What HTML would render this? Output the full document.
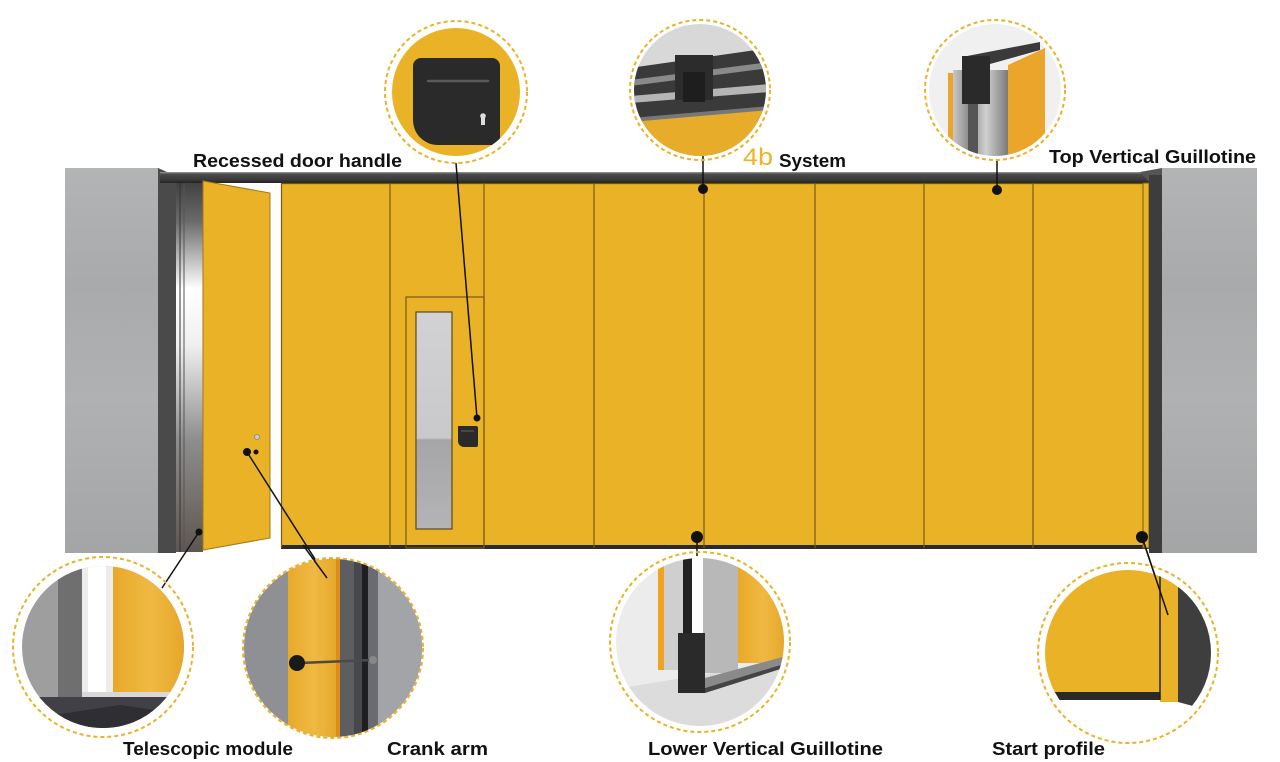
<!DOCTYPE html>
<html><head><meta charset="utf-8"><style>
html,body{margin:0;padding:0;background:#fff;}
svg{display:block;}
text{font-family:"Liberation Sans",sans-serif;font-weight:bold;fill:#111;}
</style></head><body>
<svg width="1280" height="762" viewBox="0 0 1280 762" xmlns="http://www.w3.org/2000/svg">
<defs>
  <linearGradient id="wallG" x1="0" y1="0" x2="0" y2="1">
    <stop offset="0" stop-color="#b3b4b5"/><stop offset="0.3" stop-color="#a9aaab"/>
    <stop offset="0.6" stop-color="#b0b1b2"/><stop offset="1" stop-color="#a4a5a6"/>
  </linearGradient>
  <linearGradient id="chanG" x1="0" y1="0" x2="0" y2="1">
    <stop offset="0" stop-color="#3a3a3a"/><stop offset="0.12" stop-color="#6a6a6a"/>
    <stop offset="0.3" stop-color="#ffffff"/><stop offset="0.45" stop-color="#f0f0f0"/>
    <stop offset="0.7" stop-color="#8e8e8e"/><stop offset="1" stop-color="#5e5650"/>
  </linearGradient>
  <linearGradient id="trackG" x1="0" y1="0" x2="0" y2="1">
    <stop offset="0" stop-color="#9a9a9a"/><stop offset="0.2" stop-color="#4a4a4a"/>
    <stop offset="0.7" stop-color="#3a3a3a"/><stop offset="1" stop-color="#222"/>
  </linearGradient>
  <linearGradient id="glassG" x1="0" y1="0" x2="0" y2="1">
    <stop offset="0" stop-color="#d2d2d4"/><stop offset="0.58" stop-color="#c9c9cb"/>
    <stop offset="0.59" stop-color="#a6a6a8"/><stop offset="1" stop-color="#b4b4b6"/>
  </linearGradient>
  <linearGradient id="metalG" x1="0" y1="0" x2="1" y2="0">
    <stop offset="0" stop-color="#c8c8c8"/><stop offset="0.3" stop-color="#8a8a8a"/>
    <stop offset="0.6" stop-color="#d0d0d0"/><stop offset="1" stop-color="#7a7a7a"/>
  </linearGradient>
  <linearGradient id="woodG" x1="0" y1="0" x2="1" y2="0">
    <stop offset="0" stop-color="#e9a92a"/><stop offset="0.5" stop-color="#efb943"/><stop offset="1" stop-color="#e5a527"/>
  </linearGradient>
  <clipPath id="c1"><circle cx="456" cy="92" r="64"/></clipPath>
  <clipPath id="c2"><circle cx="700" cy="90" r="66"/></clipPath>
  <clipPath id="c3"><circle cx="995" cy="90" r="66"/></clipPath>
  <clipPath id="c4"><circle cx="103" cy="647" r="81"/></clipPath>
  <clipPath id="c5"><circle cx="333" cy="648" r="89"/></clipPath>
  <clipPath id="c6"><circle cx="700" cy="642" r="84"/></clipPath>
  <clipPath id="c7"><circle cx="1128" cy="653" r="83"/></clipPath>
</defs>

<!-- ===== Main wall scene ===== -->
<!-- left wall -->
<rect x="65" y="168" width="94" height="385" fill="url(#wallG)"/>
<polygon points="158,168 176,176 176,553 158,553" fill="#4a4a4a"/>
<rect x="176" y="176" width="27" height="376" fill="url(#chanG)"/>
<line x1="180" y1="180" x2="180" y2="552" stroke="#333" stroke-width="1"/>
<line x1="184" y1="180" x2="184" y2="552" stroke="#555" stroke-width="1"/>
<!-- opening gap -->
<rect x="203" y="183" width="78" height="366" fill="#ffffff"/>
<!-- track -->
<rect x="160" y="172" width="990" height="11" fill="url(#trackG)"/>
<polygon points="1140,172 1162,168 1162,183 1150,183" fill="#555"/>
<!-- open door -->
<polygon points="203,181 270,193 270,538 203,550" fill="#e9b227" stroke="#a07a14" stroke-width="1"/>
<circle cx="257" cy="437" r="2.5" fill="#ccc" stroke="#888" stroke-width="0.8"/>
<!-- main panels -->
<rect x="281" y="183" width="862" height="365" fill="#e9b227"/>
<line x1="281" y1="183.5" x2="1143" y2="183.5" stroke="#6a5212" stroke-width="1.2"/>
<rect x="281" y="545" width="868" height="4" fill="#2b2b2b"/>
<g stroke="#7a5c10" stroke-width="1.2">
  <line x1="281.5" y1="183" x2="281.5" y2="548"/>
  <line x1="390" y1="183" x2="390" y2="548"/>
  <line x1="484" y1="183" x2="484" y2="548"/>
  <line x1="594" y1="183" x2="594" y2="548"/>
  <line x1="704" y1="183" x2="704" y2="548"/>
  <line x1="815" y1="183" x2="815" y2="548"/>
  <line x1="924" y1="183" x2="924" y2="548"/>
  <line x1="1033" y1="183" x2="1033" y2="548"/>
</g>
<!-- door with window -->
<rect x="406" y="297" width="78" height="251" fill="none" stroke="#7a5c10" stroke-width="1.2"/>
<rect x="416" y="312" width="36" height="217" fill="url(#glassG)" stroke="#5a4a20" stroke-width="1.2"/>
<path d="M458,426 h18 a2,2 0 0 1 2,2 v17 a2,2 0 0 1 -2,2 h-12 a6,6 0 0 1 -6,-6 z" fill="#2a2a2a"/>
<line x1="461" y1="431" x2="474" y2="431" stroke="#666" stroke-width="1"/>
<!-- start profile and right frame -->
<rect x="1143" y="183" width="6" height="365" fill="#e9b227" stroke="#7a5c10" stroke-width="1"/>
<rect x="1149" y="175" width="13" height="378" fill="#3d3d3d"/>
<rect x="1162" y="168" width="95" height="385" fill="url(#wallG)"/>

<!-- ===== Connectors & dots ===== -->
<g stroke="#111" stroke-width="1.5" fill="none">
  <line x1="456" y1="163" x2="477" y2="418"/>
  <line x1="703" y1="108" x2="703" y2="189"/>
  <line x1="997" y1="160" x2="997" y2="190"/>
  <line x1="199" y1="532" x2="162" y2="588"/>
  <line x1="247" y1="452" x2="327" y2="578"/>
  <line x1="697" y1="537" x2="697" y2="556"/>
  <line x1="1142" y1="537" x2="1168" y2="615"/>
</g>
<g fill="#111">
  <circle cx="703" cy="189" r="5"/>
  <circle cx="997" cy="190" r="5"/>
  <circle cx="477" cy="418" r="3.5"/>
  <circle cx="697" cy="537" r="6"/>
  <circle cx="1142" cy="537" r="6"/>
  <circle cx="199" cy="532" r="3.5"/>
  <circle cx="247" cy="452" r="4"/>
  <circle cx="256" cy="452" r="2.5"/>
</g>

<!-- ===== Circle 1: recessed handle ===== -->
<circle cx="456" cy="92" r="71" fill="none" stroke="#e9b227" stroke-width="2" stroke-dasharray="4,3"/>
<circle cx="456" cy="92" r="64" fill="#e9b227"/>
<g clip-path="url(#c1)">
  <path d="M421,58 h71 a8,8 0 0 1 8,8 v79 h-62 a25,25 0 0 1 -25,-25 v-54 a8,8 0 0 1 8,-8 z" fill="#2a2a2a"/>
  <line x1="428" y1="81" x2="488" y2="81" stroke="#5a5a5a" stroke-width="2.5" stroke-linecap="round"/>
  <rect x="481" y="115" width="4" height="10" fill="#ddd"/>
  <circle cx="483" cy="116" r="2.8" fill="#ddd"/>
</g>

<!-- ===== Circle 2: 4b system ===== -->
<circle cx="700" cy="90" r="70" fill="none" stroke="#e9b227" stroke-width="2" stroke-dasharray="4,3"/>
<g clip-path="url(#c2)">
  <rect x="630" y="20" width="140" height="140" fill="#d8d8d8"/>
  <polygon points="630,68 770,48 770,110 630,118" fill="#3a3a3a"/>
  <polygon points="630,80 770,62 770,68 630,86" fill="#8a8a8a"/>
  <polygon points="630,96 770,84 770,92 630,103" fill="#b5b5b5"/>
  <polygon points="630,118 770,106 770,112 630,124" fill="#777"/>
  <polygon points="630,122 770,110 770,160 630,160" fill="#e7ad2a"/>
  <rect x="675" y="55" width="38" height="45" fill="#2c2c2c"/>
  <rect x="683" y="72" width="22" height="30" fill="#1e1e1e"/>
</g>

<!-- ===== Circle 3: top vertical guillotine ===== -->
<circle cx="995" cy="90" r="70" fill="none" stroke="#e9b227" stroke-width="2" stroke-dasharray="4,3"/>
<circle cx="995" cy="90" r="66" fill="#f0f0f0"/>
<g clip-path="url(#c3)">
  <polygon points="1008,65 1045,48 1045,160 1008,160" fill="#eaa52a"/>
  <rect x="948" y="73" width="5" height="80" fill="#eaa52a"/>
  <rect x="953" y="70" width="55" height="90" fill="url(#metalG)"/>
  <polygon points="962,57 1040,42 1040,50 990,64 962,64" fill="#3a3a3a"/>
  <rect x="962" y="56" width="28" height="48" fill="#2a2a2a"/>
  <rect x="968" y="104" width="10" height="56" fill="#555"/>
</g>

<!-- ===== Circle 4: telescopic module ===== -->
<circle cx="103" cy="647" r="90" fill="none" stroke="#e9b227" stroke-width="2" stroke-dasharray="4,3"/>
<g clip-path="url(#c4)">
  <rect x="20" y="560" width="170" height="180" fill="#9e9e9e"/>
  <rect x="58" y="560" width="24" height="140" fill="#6f6f6f"/>
  <rect x="82" y="560" width="31" height="137" fill="#ececec"/>
  <rect x="88" y="560" width="18" height="137" fill="#ffffff"/>
  <rect x="113" y="560" width="75" height="132" fill="url(#woodG)"/>
  <rect x="82" y="692" width="106" height="5" fill="#d8d8d8"/>
  <rect x="20" y="697" width="170" height="50" fill="#404046"/>
  <polygon points="20,720 120,705 190,715 190,740 20,740" fill="#2e2e33"/>
</g>

<!-- ===== Circle 5: crank arm ===== -->
<circle cx="333" cy="648" r="90" fill="none" stroke="#e9b227" stroke-width="2" stroke-dasharray="4,3"/>
<g clip-path="url(#c5)">
  <rect x="240" y="555" width="190" height="190" fill="#8f9094"/>
  <rect x="288" y="555" width="52" height="190" fill="url(#woodG)"/>
  <rect x="336" y="555" width="4" height="190" fill="#e08c1a"/>
  <rect x="340" y="555" width="14" height="190" fill="#5d5e62"/>
  <rect x="354" y="555" width="8" height="190" fill="#47484c"/>
  <rect x="362" y="555" width="6" height="190" fill="#1f1f22"/>
  <rect x="368" y="555" width="10" height="190" fill="#6a6b70"/>
  <rect x="378" y="555" width="52" height="190" fill="#a3a4a8"/>
  <line x1="300" y1="663" x2="372" y2="660" stroke="#4a4a4a" stroke-width="2.5"/>
  <circle cx="373" cy="660" r="4" fill="#888"/>
  <circle cx="297" cy="663" r="8" fill="#1a1a1a"/>
</g>
<line x1="303" y1="545" x2="327" y2="578" stroke="#111" stroke-width="1.5"/>

<!-- ===== Circle 6: lower vertical guillotine ===== -->
<circle cx="700" cy="642" r="90" fill="none" stroke="#e9b227" stroke-width="2" stroke-dasharray="4,3"/>
<circle cx="700" cy="642" r="84" fill="#ececec"/>
<g clip-path="url(#c6)">
  <polygon points="610,690 790,660 790,730 610,730" fill="#dcdcdc"/>
  <rect x="658" y="555" width="6" height="115" fill="#eea321"/>
  <rect x="664" y="555" width="19" height="115" fill="#cfcfcf"/>
  <rect x="692" y="555" width="11" height="120" fill="#ffffff"/>
  <rect x="703" y="555" width="35" height="118" fill="#b8b8b8"/>
  <rect x="738" y="555" width="50" height="108" fill="url(#woodG)"/>
  <rect x="683" y="553" width="9" height="85" fill="#222"/>
  <rect x="678" y="633" width="27" height="60" fill="#2a2a2a"/>
  <polygon points="705,678 790,655 790,662 705,688" fill="#8a8a8a"/>
  <polygon points="705,688 790,662 790,666 705,693" fill="#444"/>
</g>

<!-- ===== Circle 7: start profile ===== -->
<circle cx="1128" cy="653" r="90" fill="none" stroke="#e9b227" stroke-width="2" stroke-dasharray="4,3"/>
<g clip-path="url(#c7)">
  <rect x="1040" y="565" width="120" height="127" fill="#e9b227"/>
  <rect x="1040" y="692" width="120" height="8" fill="#2a2a2a"/>
  <rect x="1160" y="565" width="18" height="137" fill="#e9b227"/>
  <line x1="1160" y1="565" x2="1160" y2="700" stroke="#222" stroke-width="1.5"/>
  <polygon points="1178,565 1215,565 1215,712 1178,702" fill="#3e3e3e"/>
</g>
<line x1="1142" y1="537" x2="1168" y2="615" stroke="#111" stroke-width="1.5"/>

<!-- ===== Labels ===== -->
<text x="193" y="167" font-size="18" textLength="209" lengthAdjust="spacingAndGlyphs">Recessed door handle</text>
<text x="743" y="165" font-size="24" style="font-weight:normal;fill:#eeb22c" textLength="30" lengthAdjust="spacingAndGlyphs">4b</text>
<text x="779" y="167" font-size="18" textLength="67" lengthAdjust="spacingAndGlyphs">System</text>
<text x="1049" y="163" font-size="18" textLength="207" lengthAdjust="spacingAndGlyphs">Top Vertical Guillotine</text>
<text x="123" y="755" font-size="18" textLength="170" lengthAdjust="spacingAndGlyphs">Telescopic module</text>
<text x="387" y="755" font-size="18" textLength="101" lengthAdjust="spacingAndGlyphs">Crank arm</text>
<text x="648" y="755" font-size="18" textLength="235" lengthAdjust="spacingAndGlyphs">Lower Vertical Guillotine</text>
<text x="992" y="755" font-size="18" textLength="113" lengthAdjust="spacingAndGlyphs">Start profile</text>
</svg>
</body></html>
